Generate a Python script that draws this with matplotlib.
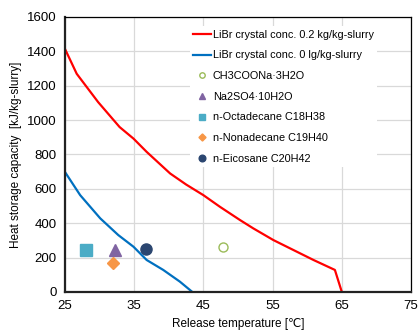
import matplotlib
matplotlib.use("Agg")
import matplotlib.pyplot as plt

plt.rcParams['font.family'] = ['Liberation Sans', 'DejaVu Sans']

# LiBr slurry, crystal conc. 0.2 kg/kg-slurry
red_t = [25.0, 26.7, 29.8, 32.9, 34.9, 36.8, 40.2, 42.5, 45.0, 47.4, 50.3, 52.2, 55.1, 58.5, 60.9, 64.0, 65.0]
red_q = [1414, 1269, 1104, 959, 892, 815, 689, 625, 563, 495, 418, 370, 302, 234, 186, 128, 0]
# LiBr slurry, crystal conc. 0
blue_t = [25.0, 27.2, 30.1, 32.7, 34.9, 36.8, 39.2, 41.6, 43.4]
blue_q = [698, 563, 428, 331, 263, 186, 128, 60, 0]

# PCM reference points
pcm_names = ["CH3COONa\u00b73H2O", "Na2SO4\u00b710H2O", "n-Octadecane C18H38",
             "n-Nonadecane C19H40", "n-Eicosane C20H42"]
pcm_t = [47.8, 32.3, 28.0, 32.0, 36.7]
pcm_q = [263, 246, 244, 167, 250]
pcm_marker = ["o", "^", "s", "D", "o"]
pcm_size = [6.5, 8, 8, 6, 8]
pcm_color = ["#9BBB59", "#8064A2", "#4BACC6", "#F79646", "#2B4670"]

fig = plt.figure(figsize=(4.19, 3.31), dpi=100)
ax = fig.add_axes([0.155, 0.118, 0.826, 0.831])

ax.plot(red_t, red_q, color="#FF0000", lw=1.6, label="LiBr crystal conc. 0.2 kg/kg-slurry")
ax.plot(blue_t, blue_q, color="#0070C0", lw=1.6, label="LiBr crystal conc. 0 lg/kg-slurry")
for i in range(len(pcm_names)):
    if i == 0:
        ax.plot(pcm_t[i], pcm_q[i], marker="o", ms=pcm_size[i], mfc="white", mec=pcm_color[i],
                mew=1.0, ls="none", label=pcm_names[i])
    else:
        ax.plot(pcm_t[i], pcm_q[i], marker=pcm_marker[i], ms=pcm_size[i], color=pcm_color[i],
                ls="none", label=pcm_names[i])

ax.set_xlim(25, 75)
ax.set_ylim(0, 1600)
ax.set_xticks([25, 35, 45, 55, 65, 75])
ax.set_yticks(range(0, 1601, 200))
ax.grid(True, color="#D9D9D9", lw=0.9)
ax.set_axisbelow(True)
ax.tick_params(length=0, labelsize=9.5, pad=6)
for s in ["top", "right"]:
    ax.spines[s].set_linewidth(0.9)
for s in ["left", "bottom"]:
    ax.spines[s].set_linewidth(1.6)
    ax.spines[s].set_color("#222222")

ax.set_xlabel("Release temperature [\u2103]", fontsize=8.5, labelpad=4)
ax.set_ylabel("Heat storage capacity  [kJ/kg-slurry]", fontsize=8.5, labelpad=3.5)

leg = ax.legend(loc="upper left", bbox_to_anchor=(0.345, 0.985), fontsize=7.85,
                frameon=True, framealpha=1, edgecolor="none", fancybox=False,
                handlelength=1.6, handletextpad=0.2, labelspacing=0.98,
                borderpad=0.3, markerscale=0.6)

fig.savefig("out.png", dpi=100)
